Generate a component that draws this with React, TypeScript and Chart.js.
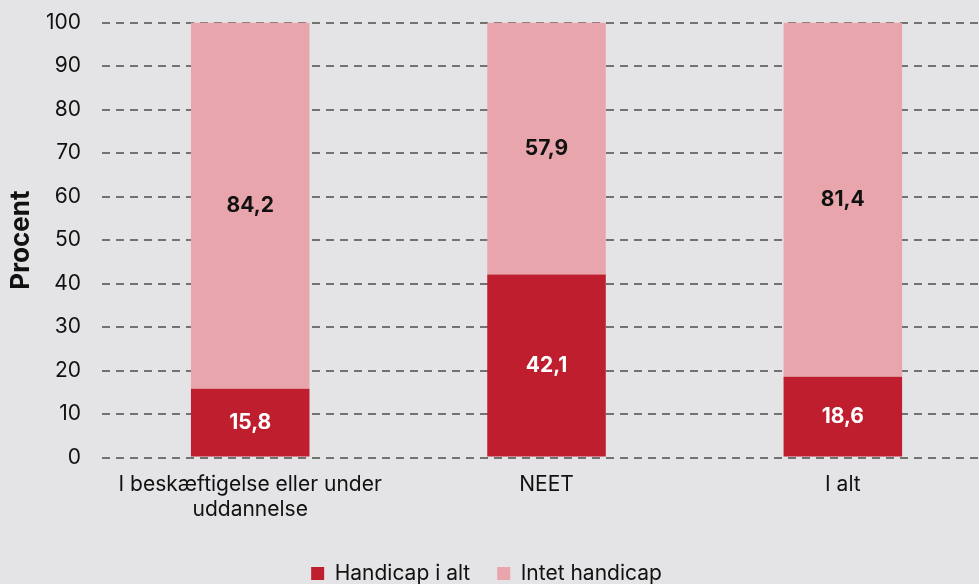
import React, { useEffect, useRef } from "react";
import { Chart, registerables } from "chart.js";

Chart.register(...registerables);

const categories: (string | string[])[] = [
  ["I beskæftigelse eller under", "uddannelse"],
  "NEET",
  "I alt",
];
const handicapValues = [15.8, 42.1, 18.6];
const noHandicapValues = [84.2, 57.9, 81.4];
const seriesNames = ["Handicap i alt", "Intet handicap"];
const yTicks = [0, 10, 20, 30, 40, 50, 60, 70, 80, 90, 100];

const fmt = (v: number) => v.toFixed(1).replace(".", ",");

const labelPlugin = {
  id: "barLabels",
  afterDatasetsDraw(chart: any) {
    const ctx = chart.ctx;
    ctx.save();
    ctx.font = "bold 21px Inter";
    ctx.textAlign = "center";
    ctx.textBaseline = "middle";
    chart.data.datasets.forEach((ds: any, i: number) => {
      const meta = chart.getDatasetMeta(i);
      meta.data.forEach((el: any, j: number) => {
        const v = ds.data[j];
        const y = (el.y + el.base) / 2;
        ctx.fillStyle = i === 0 ? "#ffffff" : "#111111";
        ctx.fillText(fmt(v), el.x, y);
      });
    });
    ctx.restore();
  },
};

const legendShift = {
  id: "legendShift",
  afterLayout(chart: any) {
    if (chart.legend) {
      chart.legend.left -= 9;
      chart.legend.right -= 9;
    }
  },
};

export default function App() {
  const ref = useRef<HTMLCanvasElement>(null);
  useEffect(() => {
    if (!ref.current) return;
    const chart = new Chart(ref.current, {
      type: "bar",
      data: {
        labels: categories,
        datasets: [
          {
            label: seriesNames[0],
            data: handicapValues,
            backgroundColor: "#BE1E2D",
            barPercentage: 0.4,
            categoryPercentage: 1,
          },
          {
            label: seriesNames[1],
            data: noHandicapValues,
            backgroundColor: "#E8A6AC",
            barPercentage: 0.4,
            categoryPercentage: 1,
          },
        ],
      },
      options: {
        animation: false,
        responsive: false,
        devicePixelRatio: 1,
        layout: { padding: { top: 4, right: 0, left: 0, bottom: 0 } },
        plugins: {
          legend: {
            position: "bottom",
            labels: {
              color: "#111111",
              font: { family: "Inter", size: 21 },
              boxWidth: 13,
              boxHeight: 13,
              padding: 27,
            },
          },
          tooltip: { enabled: false },
        },
        scales: {
          x: {
            stacked: true,
            grid: { display: false, drawTicks: false },
            border: { display: false },
            ticks: {
              color: "#111111",
              font: { family: "Inter", size: 21 },
              padding: 14,
              maxRotation: 0,
            },
          },
          y: {
            stacked: true,
            min: 0,
            max: 100,
            afterBuildTicks: (axis: any) => {
              axis.ticks = yTicks.map((v) => ({ value: v }));
            },
            grid: {
              color: "#727272",
              lineWidth: 2,
              drawTicks: false,
            },
            border: { display: false, dash: [8, 6] },
            ticks: {
              color: "#111111",
              font: { family: "Inter", size: 21 },
              padding: 21,
            },
            title: {
              display: true,
              text: "Procent",
              color: "#111111",
              font: { family: "Inter", size: 26, weight: "bold", lineHeight: 1 },
              padding: { top: 8, bottom: -9 },
            },
          },
        },
      },
      plugins: [labelPlugin, legendShift],
    } as any);
    return () => chart.destroy();
  }, []);
  return (
    <div
      style={{
        position: "fixed",
        left: 0,
        top: 0,
        width: 979,
        height: 584,
        overflow: "hidden",
        background: "#E4E4E6",
      }}
    >
      <canvas
        ref={ref}
        width={991}
        height={605}
        style={{ display: "block", marginTop: -11 }}
      />
    </div>
  );
}
